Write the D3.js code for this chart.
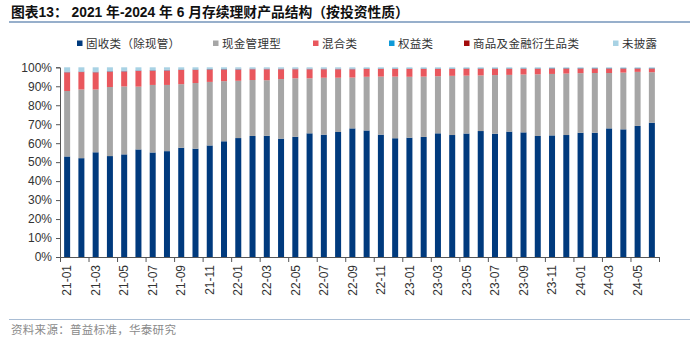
<!DOCTYPE html>
<html>
<head>
<meta charset="utf-8">
<script src="https://cdn.jsdelivr.net/npm/d3@7"></script>
<style>
  html, body { margin: 0; padding: 0; background: #fff; }
  svg { display: block; }
</style>
</head>
<body>
<svg id="chart" width="700" height="342"></svg>
<script>
const categories = ["21-01","21-02","21-03","21-04","21-05","21-06","21-07","21-08","21-09","21-10","21-11","21-12",
  "22-01","22-02","22-03","22-04","22-05","22-06","22-07","22-08","22-09","22-10","22-11","22-12",
  "23-01","23-02","23-03","23-04","23-05","23-06","23-07","23-08","23-09","23-10","23-11","23-12",
  "24-01","24-02","24-03","24-04","24-05","24-06"];

const fixedIncome = [53.0,52.1,55.2,53.2,54.1,56.7,55.1,55.8,57.6,57.1,58.8,61.0,
  62.7,63.8,63.9,62.4,63.4,65.2,64.5,65.9,67.8,66.7,64.5,62.6,
  62.9,63.3,65.2,64.3,65.1,66.4,65.0,66.1,65.7,63.8,64.1,64.3,
  65.5,65.5,67.8,67.3,69.1,70.8];
const cashMgmt = [34.5,36.2,33.1,36.4,35.8,33.1,35.6,34.9,33.5,34.6,33.5,31.7,
  30.2,29.5,29.3,31.4,30.8,29.0,30.0,28.6,26.8,28.3,30.6,32.5,
  32.1,31.8,30.1,31.2,30.5,29.3,30.9,29.9,30.5,32.5,32.4,32.4,
  31.4,31.5,29.2,29.9,28.5,26.6];
const mixed = [9.9,9.2,9.1,8.1,8.0,8.3,7.5,7.7,7.5,6.9,6.5,6.1,
  6.0,5.7,5.8,5.2,4.8,4.8,4.5,4.5,4.4,4.1,4.0,4.0,
  4.1,4.0,3.8,3.6,3.6,3.5,3.3,3.2,3.0,2.9,2.8,2.6,
  2.4,2.3,2.3,2.1,1.7,1.9];
const equity = [0.2,0.2,0.2,0.2,0.2,0.2,0.2,0.2,0.2,0.2,0.2,0.2,
  0.2,0.2,0.2,0.2,0.2,0.2,0.2,0.2,0.2,0.2,0.2,0.2,
  0.2,0.2,0.2,0.2,0.2,0.2,0.2,0.2,0.2,0.2,0.2,0.2,
  0.2,0.2,0.2,0.2,0.2,0.2];
const commodity = [0.1,0.1,0.1,0.1,0.1,0.1,0.1,0.1,0.1,0.1,0.1,0.1,
  0.1,0.1,0.1,0.1,0.1,0.1,0.1,0.1,0.1,0.1,0.1,0.1,
  0.1,0.1,0.1,0.1,0.1,0.1,0.1,0.1,0.1,0.1,0.1,0.1,
  0.1,0.1,0.1,0.1,0.1,0.1];
const undisclosed = [2.3,2.2,2.3,2.0,1.8,1.6,1.5,1.3,1.1,1.1,0.9,0.9,
  0.8,0.7,0.7,0.7,0.7,0.7,0.7,0.7,0.7,0.6,0.6,0.6,
  0.6,0.6,0.6,0.6,0.5,0.5,0.5,0.5,0.5,0.5,0.4,0.4,
  0.4,0.4,0.4,0.4,0.4,0.4];

const seriesNames = ["固收类（除现管）","现金管理型","混合类","权益类","商品及金融衍生品类","未披露"];
const yTicks = [0,10,20,30,40,50,60,70,80,90,100];
const xLabelCats = categories.filter((d,i) => i % 2 === 0);

const colors = ["#003a7d","#a6a6a6","#e9575d","#0f9ad8","#a30b0b","#a8d2e4"];
const seriesArrays = [fixedIncome, cashMgmt, mixed, equity, commodity, undisclosed];

const table = categories.map((c,i) => {
  const row = {cat: c};
  seriesNames.forEach((s,k) => row[s] = seriesArrays[k][i]);
  return row;
});

const svg = d3.select("#chart");
const CJK = "'Noto Sans CJK SC', sans-serif";
const LAT = "'Liberation Sans', Arial, sans-serif";

// Title
svg.append("text")
  .attr("x", 11).attr("y", 17)
  .attr("font-family", "'Liberation Sans', 'Noto Sans CJK SC', sans-serif")
  .attr("font-weight", "bold")
  .attr("font-size", 13.8)
  .attr("fill", "#111")
  .text("图表13： 2021 年-2024 年 6 月存续理财产品结构（按投资性质）");
svg.append("line").attr("x1", 9).attr("x2", 690).attr("y1", 22).attr("y2", 22)
  .attr("stroke", "#97afcb").attr("stroke-width", 2);

// Legend
const legendX = [77, 213, 313, 389, 464, 613];
const lg = svg.append("g");
seriesNames.forEach((s,k) => {
  lg.append("rect").attr("x", legendX[k]).attr("y", 40.5).attr("width", 5.5).attr("height", 5.5).attr("fill", colors[k]);
  lg.append("text").attr("x", legendX[k] + 9).attr("y", 47.5)
    .attr("font-family", CJK).attr("font-size", 11.5).attr("fill", "#333")
    .attr("letter-spacing", 0.3)
    .text(s);
});

// Scales
const plotLeft = 60, plotRight = 659, plotTop = 67.3, plotBottom = 257;
const x = d3.scaleBand().domain(categories).range([plotLeft, plotRight]).padding(0);
const y = d3.scaleLinear().domain([0,100]).range([plotBottom, plotTop]);
const barW = 6;

const stack = d3.stack().keys(seriesNames);
const stacked = stack(table);

svg.append("g").selectAll("g").data(stacked).join("g")
  .attr("fill", (d,k) => colors[k])
  .selectAll("rect").data(d => d).join("rect")
  .attr("x", d => x(d.data.cat) + x.bandwidth()/2 - barW/2)
  .attr("width", barW)
  .attr("y", d => y(d[1]))
  .attr("height", d => Math.max(0, y(d[0]) - y(d[1])));

// Y axis
const yAxis = svg.append("g").attr("transform", `translate(${plotLeft},0)`)
  .call(d3.axisLeft(y).tickValues(yTicks).tickFormat(d => d + "%").tickSize(4).tickPadding(4));
yAxis.select(".domain").attr("stroke", "#555");
yAxis.selectAll(".tick line").attr("stroke", "#555");
yAxis.selectAll("text").attr("font-family", LAT).attr("font-size", 12).attr("fill", "#333");

// X axis labels
const xAxis = svg.append("g").attr("transform", `translate(0,${plotBottom})`)
  .call(d3.axisBottom(x).tickValues(xLabelCats).tickSize(0).tickPadding(0));
xAxis.select(".domain").attr("stroke", "#555");
xAxis.selectAll("text")
  .attr("font-family", LAT).attr("font-size", 12).attr("fill", "#333")
  .attr("text-anchor", "end")
  .attr("x", 0).attr("y", 0).attr("dy", "0.35em")
  .attr("transform", "translate(0,8) rotate(-90)");

// X boundary ticks
const xl = d3.scaleLinear().domain([0, categories.length]).range([plotLeft, plotRight]);
const tickIdx = d3.range(0, categories.length + 1, 2);
const xt = svg.append("g").attr("transform", `translate(0,${plotBottom})`)
  .call(d3.axisBottom(xl).tickValues(tickIdx).tickFormat("").tickSize(5));
xt.select(".domain").attr("stroke", "#555");
xt.selectAll(".tick line").attr("stroke", "#555");

// Footer
svg.append("line").attr("x1", 9).attr("x2", 690).attr("y1", 319.5).attr("y2", 319.5)
  .attr("stroke", "#a9bdd4").attr("stroke-width", 1.2);
svg.append("text").attr("x", 11).attr("y", 334)
  .attr("font-family", CJK).attr("font-size", 11.5).attr("fill", "#8a8a8a")
  .attr("letter-spacing", 0.3)
  .text("资料来源：普益标准，华泰研究");
</script>
</body>
</html>
